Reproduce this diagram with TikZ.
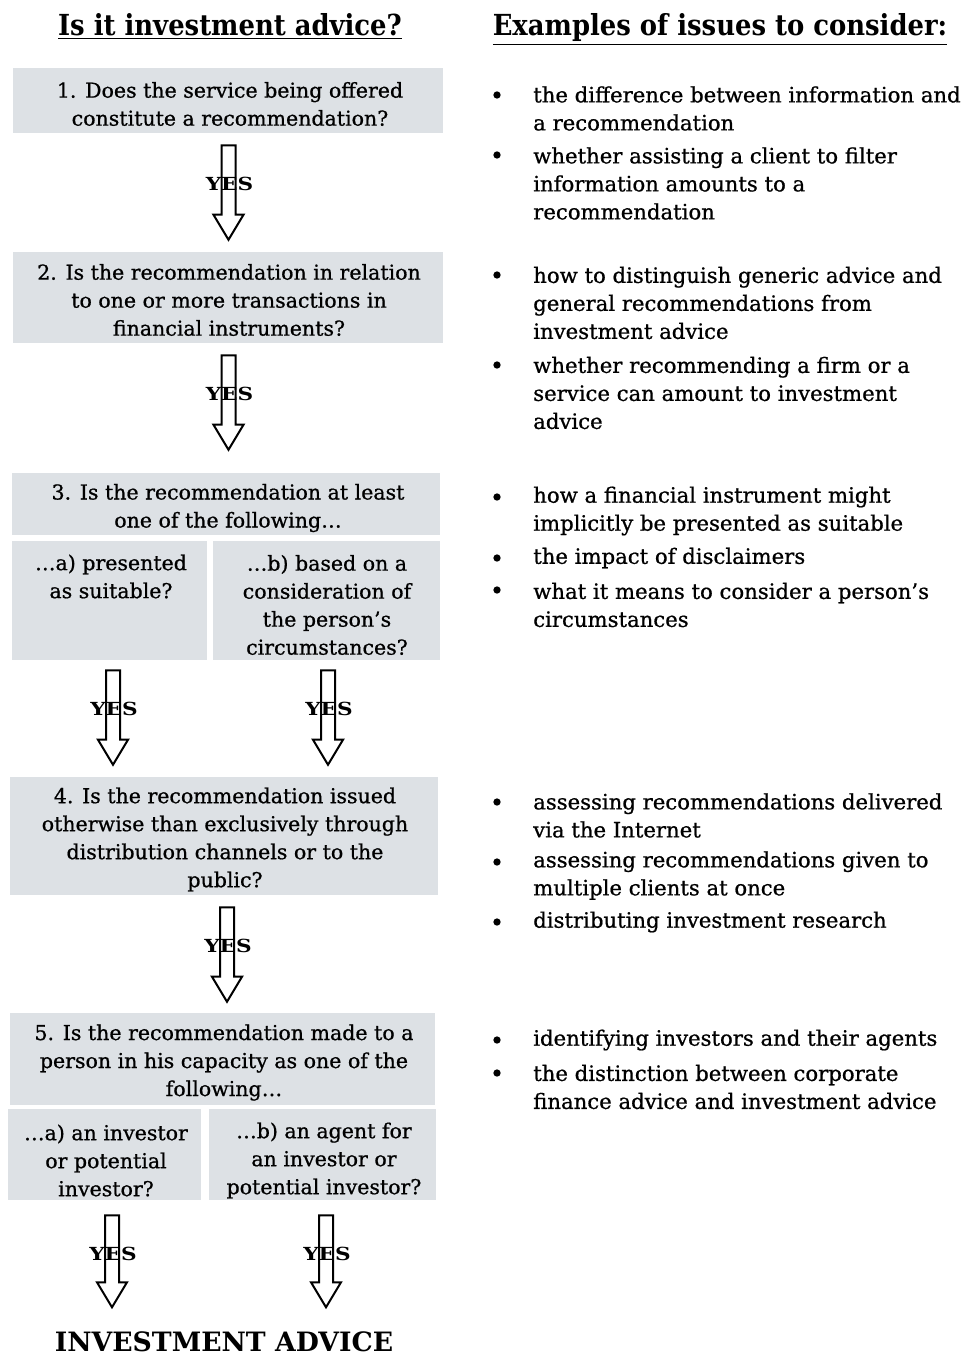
\documentclass[tikz,border=0pt]{standalone}
\usepackage{fontspec}
\setmainfont{DejaVu Serif}
\newfontfamily\bodyfont{DejaVu Serif}[RawFeature={embolden=0.8}]
\usetikzlibrary{calc,fit}
\definecolor{boxgray}{RGB}{221,225,229}
\tikzset{
  qbox/.style={fill=boxgray, draw=none, inner sep=0pt},
  qtext/.style={align=center, inner sep=0pt, font=\bodyfont\fontsize{15.4}{21}\selectfont},
  itemtext/.style={align=left, anchor=west, inner sep=0pt, font=\bodyfont\fontsize{15.9}{21}\selectfont},
  bul/.style={circle, fill=black, draw=none, inner sep=0pt, minimum size=5.5pt},
  hdr/.style={inner sep=0pt, anchor=base, font=\bfseries\fontsize{19.4}{24}\selectfont},
  arrowline/.style={draw=black, line width=1.5pt, line join=miter},
  yestext/.style={inner sep=0pt, font=\bfseries\fontsize{13.5}{13.5}\selectfont},
}
\newcommand{\yesarrow}[3]{%
  \draw[arrowline] let \p1=(#1), \p2=(#2) in
    (\x1-5.25pt,\y1) -- (\x1+5.25pt,\y1) -- (\x1+5.25pt,\y2+18.75pt)
    -- (\x1+11.25pt,\y2+18.75pt) -- (\x1,\y2) -- (\x1-11.25pt,\y2+18.75pt)
    -- (\x1-5.25pt,\y2+18.75pt) -- cycle;
  \node[yestext] (#3) at ($(#1)+(1,39)$) {\scalebox{1.2}[1]{YES}};
}
\begin{document}
\begin{tikzpicture}[x=0.75pt,y=-0.75pt]
\fill[white] (0,0) rectangle (965,1355);
\useasboundingbox (0,0) rectangle (965,1355);

% headers
\node[hdr] (h1) at (230,36) {\scalebox{1}[1.12]{\underline{Is it investment advice?}}};
\node[hdr] (h2) at (720,36) {\scalebox{1}[1.12]{\underline{Examples of issues to consider:}}};

% boxes
\node[qbox, fit={(13,68)(443,133)}] (b1) {};
\node[qbox, fit={(13,252)(443,343)}] (b2) {};
\node[qbox, fit={(12,473)(440,535)}] (b3) {};
\node[qbox, fit={(12,541)(207,660)}] (b3a) {};
\node[qbox, fit={(213,541)(440,660)}] (b3b) {};
\node[qbox, fit={(10,777)(438,895)}] (b4) {};
\node[qbox, fit={(10,1013)(435,1105)}] (b5) {};
\node[qbox, fit={(8,1109)(201,1200)}] (b5a) {};
\node[qbox, fit={(209,1109)(436,1200)}] (b5b) {};

% box texts
\node[qtext] (t1) at (230,104) {1. Does the service being offered\\constitute a recommendation?};
\node[qtext] (t2) at (229,300) {2. Is the recommendation in relation\\to one or more transactions in\\financial instruments?};
\node[qtext] (t3) at (228,508) {3. Is the recommendation at least\\one of the following…};
\node[qtext] (t3a) at (111,576.5) {…a) presented\\as suitable?};
\node[qtext] (t3b) at (327,605) {…b) based on a\\consideration of\\the person’s\\circumstances?};
\node[qtext] (t4) at (225,839.5) {4. Is the recommendation issued\\otherwise than exclusively through\\distribution channels or to the\\public?};
\node[qtext] (t5) at (224,1062.5) {5. Is the recommendation made to a\\person in his capacity as one of the\\following…};
\node[qtext] (t5a) at (106,1160.5) {…a) an investor\\or potential\\investor?};
\node[qtext] (t5b) at (324,1160.5) {…b) an agent for\\an investor or\\potential investor?};

\node[inner sep=0pt, anchor=base, font=\bfseries\fontsize{20}{24}\selectfont] (ia) at (224,1351) {INVESTMENT ADVICE};

% arrows
\coordinate (a1t) at ($(b1.south)+(0.5,12)$);
\coordinate (a1b) at ($(b2.north)+(0.5,-12)$);
\coordinate (a2t) at ($(b2.south)+(0.5,12)$);
\coordinate (a2b) at ($(b3.north)+(0.5,-23)$);
\coordinate (a3at) at ($(b3a.south)+(3.5,10)$);
\coordinate (a3ab) at ($(b4.north -| a3at)+(0,-12)$);
\coordinate (a3bt) at ($(b3b.south)+(1.5,10)$);
\coordinate (a3bb) at ($(b4.north -| a3bt)+(0,-12)$);
\coordinate (a4t) at ($(b4.south)+(3,12)$);
\coordinate (a4b) at ($(b5.north)+(3,-11)$);
\coordinate (a5at) at ($(b5a.south)+(7.5,15)$);
\coordinate (a5ab) at ($(a5at)+(0,92)$);
\coordinate (a5bt) at ($(b5b.south)+(3.5,15)$);
\coordinate (a5bb) at ($(a5bt)+(0,92)$);
\yesarrow{a1t}{a1b}{y1}
\yesarrow{a2t}{a2b}{y2}
\yesarrow{a3at}{a3ab}{y3a}
\yesarrow{a3bt}{a3bb}{y3b}
\yesarrow{a4t}{a4b}{y4}
\yesarrow{a5at}{a5ab}{y5a}
\yesarrow{a5bt}{a5bb}{y5b}

% right column
\node[bul] (p1) at (497,95) {};
\node[itemtext] (i1) at (533,108.5) {the difference between information and\\a recommendation};
\node[bul] (p2) at (497,155) {};
\node[itemtext] (i2) at (533,183.5) {whether assisting a client to filter\\information amounts to a\\recommendation};
\node[bul] (p3) at (497,275) {};
\node[itemtext] (i3) at (533,303) {how to distinguish generic advice and\\general recommendations from\\investment advice};
\node[bul] (p4) at (497,365) {};
\node[itemtext] (i4) at (533,393) {whether recommending a firm or a\\service can amount to investment\\advice};
\node[bul] (p5) at (497,497) {};
\node[itemtext] (i5) at (533,511) {how a financial instrument might\\implicitly be presented as suitable};
\node[bul] (p6) at (497,558) {};
\node[itemtext] (i6) at (533,558) {the impact of disclaimers};
\node[bul] (p7) at (497,590) {};
\node[itemtext] (i7) at (533,605) {what it means to consider a person’s\\circumstances};
\node[bul] (p8) at (497,802) {};
\node[itemtext] (i8) at (533,815.5) {assessing recommendations delivered\\via the Internet};
\node[bul] (p9) at (497,862) {};
\node[itemtext] (i9) at (533,875.5) {assessing recommendations given to\\multiple clients at once};
\node[bul] (p10) at (497,922) {};
\node[itemtext] (i10) at (533,922) {distributing investment research};
\node[bul] (p11) at (497,1040) {};
\node[itemtext] (i11) at (533,1040) {identifying investors and their agents};
\node[bul] (p12) at (497,1073) {};
\node[itemtext] (i12) at (533,1087) {the distinction between corporate\\finance advice and investment advice};
\end{tikzpicture}
\end{document}
